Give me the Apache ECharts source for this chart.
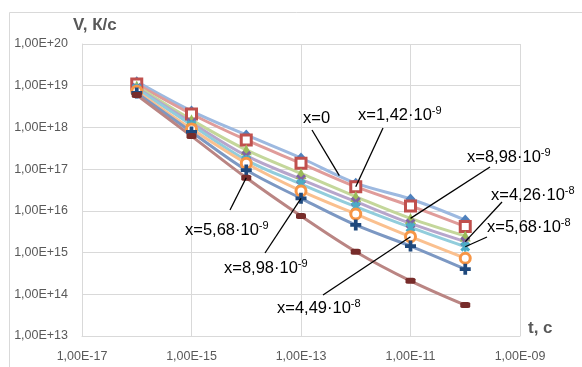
<!DOCTYPE html>
<html>
<head>
<meta charset="utf-8">
<script src="https://cdn.jsdelivr.net/npm/echarts@6/dist/echarts.min.js"></script>
<style>
  html, body { margin: 0; padding: 0; background: #ffffff; }
  #chart { width: 582px; height: 367px; }
</style>
</head>
<body>
<div id="chart"></div>
<script>
// Time points, s
const times = [1e-16, 1e-15, 1e-14, 1e-13, 1e-12, 1e-11, 1e-10];

// Rate V, K/s, one array per curve
const vDiamond  = [1.25e19, 2.47e18, 6.6e17, 1.85e17, 4.6e16, 1.92e16, 6.0e15];
const vSquare   = [1.1e19, 2.1e18, 5.0e17, 1.38e17, 3.8e16, 1.31e16, 4.2e15];
const vTriangle = [9.8e18, 1.52e18, 2.9e17, 7.9e16, 2.2e16, 6.6e15, 2.5e15];
const vCross    = [8.9e18, 1.3e18, 2.1e17, 5.7e16, 1.66e16, 5.0e15, 1.83e15];
const vStar     = [8.4e18, 1.15e18, 1.65e17, 4.4e16, 1.26e16, 4.0e15, 1.38e15];
const vCircle   = [7.4e18, 9.2e17, 1.38e17, 3.0e16, 8.4e15, 2.4e15, 7.3e14];
const vPlus     = [6.7e18, 7.8e17, 9.5e16, 2.0e16, 4.6e15, 1.43e15, 4.0e14];
const vDash     = [6.0e18, 6.2e17, 6.2e16, 7.5e15, 1.05e15, 2.1e14, 5.5e13];

const curves = [vDiamond, vSquare, vTriangle, vCross, vStar, vCircle, vPlus, vDash];

// Tick labels
const xTickExp  = [-17, -15, -13, -11, -9];
const xTickText = ['1,00E-17', '1,00E-15', '1,00E-13', '1,00E-11', '1,00E-09'];
const yTickExp  = [13, 14, 15, 16, 17, 18, 19, 20];
const yTickText = ['1,00E+13', '1,00E+14', '1,00E+15', '1,00E+16', '1,00E+17', '1,00E+18', '1,00E+19', '1,00E+20'];

// Callout texts: main part and superscript
const noteMain = ['x=0', 'x=1,42·10', 'x=8,98·10', 'x=4,26·10', 'x=5,68·10', 'x=5,68·10', 'x=8,98·10', 'x=4,49·10'];
const noteSup  = ['', '-9', '-9', '-8', '-8', '-9', '-9', '-8'];
// Which curve / point each callout points at
const noteCurve = [0, 1, 2, 3, 4, 7, 6, 5];
const notePoint = [3.7, 4, 5, 6, 6, 2, 3, 5];

const FONT = '"Liberation Sans", Arial, sans-serif';

const crossPath = 'path://M0,2 L2,0 L5,3 L8,0 L10,2 L7,5 L10,8 L8,10 L5,7 L2,10 L0,8 L3,5 Z';
const plusPath  = 'path://M3.3,0 L6.7,0 L6.7,3.3 L10,3.3 L10,6.7 L6.7,6.7 L6.7,10 L3.3,10 L3.3,6.7 L0,6.7 L0,3.3 L3.3,3.3 Z';
const starPath  = 'path://M0,2.2 L2.2,0 L5,2.8 L7.8,0 L10,2.2 L7.2,5 L10,7.8 L7.8,10 L5,7.2 L2.2,10 L0,7.8 L2.8,5 Z M3.8,0 L6.2,0 L6.2,10 L3.8,10 Z';

const looks = [
  { line: '#9DB9E0', symbol: 'diamond',   size: [10, 11], fill: '#4F81BD', stroke: '#4F81BD', bw: 0 },
  { line: '#E09C9A', symbol: 'rect',      size: 10,       fill: '#ffffff', stroke: '#C0504D', bw: 3 },
  { line: '#C4D79B', symbol: 'triangle',  size: 11,       fill: '#9BBB59', stroke: '#9BBB59', bw: 0 },
  { line: '#B7A6CC', symbol: crossPath,   size: 10,       fill: '#8064A2', stroke: '#8064A2', bw: 0 },
  { line: '#92CDDC', symbol: starPath,    size: 10,       fill: '#4BACC6', stroke: '#4BACC6', bw: 0 },
  { line: '#FAC08F', symbol: 'circle',    size: 10,       fill: '#ffffff', stroke: '#F79646', bw: 3 },
  { line: '#7C98C3', symbol: plusPath,    size: 11,       fill: '#1F497D', stroke: '#1F497D', bw: 0 },
  { line: '#BA8583', symbol: 'roundRect', size: [10, 6],  fill: '#772C2A', stroke: '#772C2A', bw: 0 }
];

function tickLabel(exps, texts) {
  return function (v) {
    const e = Math.round(Math.log10(v));
    const i = exps.indexOf(e);
    return i < 0 ? '' : texts[i];
  };
}

const chart = echarts.init(document.getElementById('chart'), null, { renderer: 'canvas' });

const series = curves.map((vals, k) => ({
  type: 'line',
  data: times.map((t, i) => [t, vals[i]]),
  smooth: 0.35,
  symbol: looks[k].symbol,
  symbolSize: looks[k].size,
  showAllSymbol: true,
  lineStyle: { width: 3, color: looks[k].line },
  itemStyle: { color: looks[k].fill, borderColor: looks[k].stroke, borderWidth: looks[k].bw, opacity: 1 },
  emphasis: { disabled: true },
  silent: true,
  z: 2
}));

chart.setOption({
  animation: false,
  backgroundColor: '#ffffff',
  grid: { left: 82, right: 62, top: 44, bottom: 31, containLabel: false },
  xAxis: {
    type: 'log',
    logBase: 10,
    min: 1e-17,
    max: 1e-9,
    axisLine: { show: true, lineStyle: { color: '#D9D9D9', width: 1 } },
    axisTick: { show: false },
    axisLabel: {
      formatter: tickLabel(xTickExp, xTickText),
      color: '#595959', fontSize: 12.5, fontFamily: FONT, margin: 14,
      showMinLabel: true, showMaxLabel: true
    },
    splitLine: { show: true, lineStyle: { color: ['#D9D9D9', 'rgba(0,0,0,0)'], width: 1 } }
  },
  yAxis: {
    type: 'log',
    logBase: 10,
    min: 1e13,
    max: 1e20,
    axisLine: { show: true, lineStyle: { color: '#D9D9D9', width: 1 } },
    axisTick: { show: false },
    axisLabel: {
      formatter: tickLabel(yTickExp, yTickText),
      color: '#595959', fontSize: 12.5, fontFamily: FONT, margin: 14,
      showMinLabel: true, showMaxLabel: true
    },
    splitLine: { show: true, lineStyle: { color: '#D9D9D9', width: 1 } }
  },
  series: series
});

// Callout placement: text left/centre and leader start, in px
const noteBox = [
  { x: 303, y: 118, lx: 312, ly: 130 },
  { x: 358, y: 115, lx: 383, ly: 128 },
  { x: 467, y: 157, lx: 490, ly: 167 },
  { x: 491, y: 195, lx: 502, ly: 202 },
  { x: 487, y: 227, lx: 487, ly: 237 },
  { x: 185, y: 230, lx: 230, ly: 210 },
  { x: 224, y: 268, lx: 265, ly: 253 },
  { x: 277, y: 308, lx: 323, ly: 295 }
];

function pointPixel(curve, pos) {
  const i = Math.floor(pos);
  const f = pos - i;
  const a = chart.convertToPixel({ xAxisIndex: 0, yAxisIndex: 0 }, [times[i], curves[curve][i]]);
  if (f === 0) return a;
  const b = chart.convertToPixel({ xAxisIndex: 0, yAxisIndex: 0 }, [times[i + 1], curves[curve][i + 1]]);
  return [a[0] + (b[0] - a[0]) * f, a[1] + (b[1] - a[1]) * f];
}

const graphics = [
  {
    type: 'rect', left: 7, top: 10, silent: true, z: 0,
    shape: { x: 0, y: 0, width: 600, height: 400 },
    style: { fill: 'none', stroke: '#D9D9D9', lineWidth: 1 }
  },
  {
    type: 'text', left: 73, top: 17, silent: true, z: 10,
    style: { text: 'V, К/с', fill: '#595959', font: 'bold 17px ' + FONT }
  },
  {
    type: 'text', left: 528, top: 320, silent: true, z: 10,
    style: { text: 't, с', fill: '#595959', font: 'bold 17px ' + FONT }
  }
];

noteMain.forEach((txt, k) => {
  const end = pointPixel(noteCurve[k], notePoint[k]);
  const b = noteBox[k];
  graphics.push({
    type: 'line', silent: true, z: 10,
    shape: { x1: b.lx, y1: b.ly, x2: end[0], y2: end[1] },
    style: { stroke: '#000000', lineWidth: 1.3 }
  });
  const rich = noteSup[k] ? '{m|' + txt + '}{s|' + noteSup[k] + '}' : '{m|' + txt + '}';
  graphics.push({
    type: 'text', silent: true, z: 11,
    x: b.x, y: b.y,
    style: {
      text: rich,
      verticalAlign: 'middle',
      align: 'left',
      rich: {
        m: { fontSize: 16.5, fontFamily: FONT, fill: '#000000', lineHeight: 20 },
        s: { fontSize: 11, fontFamily: FONT, fill: '#000000', lineHeight: 12, verticalAlign: 'top' }
      }
    }
  });
});

chart.setOption({ graphic: graphics });
</script>
</body>
</html>
